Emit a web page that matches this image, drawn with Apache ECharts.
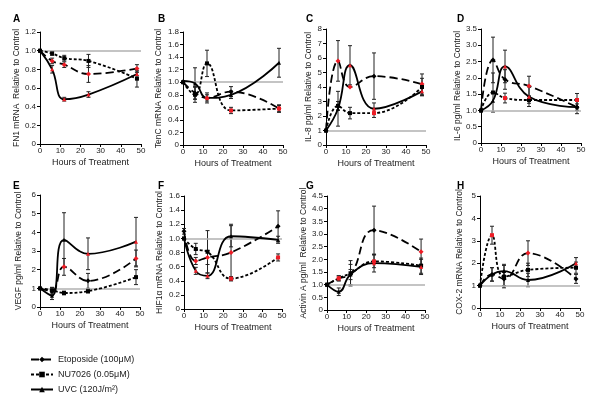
<!DOCTYPE html>
<html>
<head>
<meta charset="utf-8">
<script src="https://cdn.jsdelivr.net/npm/echarts@6/dist/echarts.min.js"></script>
<style>html,body{margin:0;padding:0;background:#fff}</style>
</head>
<body>
<div id="main" style="width:600px;height:400px;"></div>
<script type="text/javascript">
// hours sampled
var hours = [0, 6, 12, 24, 48];
var panelLetters = ['A', 'B', 'C', 'D', 'E', 'F', 'G', 'H'];
var yNames = [
    'FN1 mRNA  Relative to Control',
    'TenC mRNA Relative to Control',
    'IL-8 pg/ml Relative to Control',
    'IL-6 pg/ml Relative to Control',
    'VEGF pg/ml Relative to Control',
    'HIF1\u03b1 mRNA Relative to Control',
    'Activin A pg/ml  Relative to Control',
    'COX-2 mRNA Relative to Control'
];
var yMax = [1.2, 1.8, 8, 3.5, 6, 1.6, 4.5, 5];
var yStep = [0.2, 0.2, 1, 0.5, 1, 0.2, 0.5, 1];
var yDecimals = [1, 1, 0, 1, 0, 1, 1, 0];
var seriesNames = ['Etoposide (100\u03bcM)', 'NU7026 (0.05\u03bcM)', 'UVC (120J/m\u00b2)'];

// one row per panel, values at each hour
var etoposide = [
    [1.0, 0.89, 0.85, 0.75, 0.81],
    [1.0, 0.83, 0.75, 0.85, 0.58],
    [1.0, 5.8, 4.0, 4.75, 4.2],
    [1.0, 2.55, 1.95, 1.75, 1.1],
    [1.0, 0.85, 2.15, 1.4, 2.6],
    [1.1, 0.68, 0.73, 0.80, 1.17],
    [1.0, 1.25, 1.4, 3.15, 2.3],
    [1.0, 1.5, 1.3, 2.45, 1.3]
];
var nu7026 = [
    [1.0, 0.97, 0.92, 0.89, 0.70],
    [1.0, 0.80, 1.30, 0.55, 0.58],
    [1.0, 2.7, 2.2, 2.2, 4.0],
    [1.0, 1.55, 1.38, 1.32, 1.32],
    [1.0, 0.9, 0.75, 0.85, 1.6],
    [1.0, 0.85, 0.81, 0.43, 0.73],
    [1.0, 1.25, 1.45, 1.92, 1.75],
    [1.0, 3.25, 1.4, 1.7, 1.8]
];
var uvc = [
    [1.0, 0.80, 0.48, 0.53, 0.75],
    [1.02, 0.98, 0.75, 0.80, 1.31],
    [1.0, 2.5, 5.5, 2.5, 3.7],
    [1.0, 1.3, 2.35, 1.42, 1.1],
    [1.0, 0.6, 3.6, 2.85, 3.5],
    [1.0, 0.54, 0.47, 1.03, 0.98],
    [1.0, 0.72, 1.4, 1.85, 1.7],
    [1.0, 1.5, 1.65, 1.25, 2.0]
];
// error bar half widths
var etoposideErr = [
    [0, 0.03, 0.03, 0.09, 0.04],
    [0, 0.10, 0.08, 0.08, 0.05],
    [0, 1.4, 0, 1.6, 0.7],
    [0, 0.7, 0.3, 0.3, 0.1],
    [0, 0.2, 0.45, 0.4, 0.45],
    [0.04, 0.05, 0.1, 0.4, 0.22],
    [0, 0.1, 0.2, 0.95, 0.5],
    [0, 0.3, 0.3, 0.55, 0.2]
];
var nu7026Err = [
    [0, 0.02, 0.03, 0.07, 0.09],
    [0, 0.12, 0.21, 0.05, 0.06],
    [0, 0.3, 0.4, 0.3, 0.6],
    [0, 0.6, 0.15, 0.1, 0.2],
    [0, 0.15, 0.1, 0.1, 0.4],
    [0, 0.08, 0.3, 0.03, 0.05],
    [0, 0.1, 0.5, 0.25, 0.3],
    [0, 0.4, 0.5, 0.3, 0.25]
];
var uvcErr = [
    [0, 0.04, 0.02, 0.03, 0.02],
    [0, 0.25, 0.05, 0.06, 0.23],
    [0, 1.2, 1.35, 0.4, 0.3],
    [0, 0, 0.5, 0.3, 0.2],
    [0, 0.2, 1.45, 0.85, 1.3],
    [0, 0.05, 0.04, 0.15, 0.05],
    [0, 0.15, 0.4, 0.35, 0.3],
    [0, 0.3, 0.3, 0.3, 0.25]
];
// 1 = significant (red marker)
var etoposideSig = [
    [0, 1, 1, 1, 1], [0, 0, 1, 0, 1], [0, 1, 1, 0, 1], [0, 0, 0, 1, 0],
    [0, 0, 1, 0, 1], [0, 1, 1, 1, 0], [0, 1, 0, 0, 1], [0, 0, 0, 1, 0]
];
var nu7026Sig = [
    [0, 0, 0, 0, 0], [0, 0, 0, 1, 1], [0, 0, 0, 1, 0], [0, 0, 1, 0, 1],
    [0, 0, 0, 0, 0], [0, 0, 0, 1, 1], [0, 1, 0, 1, 0], [0, 1, 0, 0, 0]
];
var uvcSig = [
    [0, 1, 1, 1, 1], [0, 0, 1, 0, 0], [0, 0, 1, 1, 1], [0, 0, 1, 1, 0],
    [0, 0, 0, 1, 1], [0, 1, 1, 0, 0], [0, 0, 0, 1, 1], [0, 0, 0, 0, 1]
];

// layout: [left, top, width, height], name gap, letter pos
var grids = [
    [40, 32, 101, 112], [183, 32, 100, 113], [326, 29, 100, 116], [481, 29, 100, 114],
    [40, 195, 100, 112], [184, 196, 98, 113], [327, 196, 98, 114], [480, 196, 100, 112]
];
var nameGaps = [17, 20, 13, 18, 17, 20, 14, 16];
var letterPos = [[8, 9], [153, 9], [301, 9], [452, 9], [8, 176], [153, 176], [301, 176], [452, 176]];

var FONT = 'Liberation Sans';
var myChart = echarts.init(document.getElementById('main'));

var option = {
    backgroundColor: '#fff',
    animation: false,
    textStyle: {fontFamily: FONT},
    title: [],
    grid: [],
    xAxis: [],
    yAxis: [],
    series: [],
    legend: {
        orient: 'vertical',
        left: 25,
        top: 350,
        itemWidth: 22,
        itemHeight: 7,
        itemGap: 6,
        textStyle: {fontFamily: FONT, fontSize: 9, color: '#222'},
        data: seriesNames
    }
};

var groups = [
    {vals: etoposide, err: etoposideErr, sig: etoposideSig, symbol: 'diamond', size: 5, dash: [8, 4]},
    {vals: nu7026, err: nu7026Err, sig: nu7026Sig, symbol: 'rect', size: 4, dash: [3, 2]},
    {vals: uvc, err: uvcErr, sig: uvcSig, symbol: 'triangle', size: 4, dash: 'solid'}
];

function errorBar(params, api) {
    var x = api.value(0), lo = api.value(1), hi = api.value(2);
    var p1 = api.coord([x, lo]), p2 = api.coord([x, hi]);
    var c = 2;
    var st = {stroke: '#222', lineWidth: 1};
    return {
        type: 'group',
        children: [
            {type: 'line', shape: {x1: p1[0], y1: p1[1], x2: p2[0], y2: p2[1]}, style: st},
            {type: 'line', shape: {x1: p1[0] - c, y1: p1[1], x2: p1[0] + c, y2: p1[1]}, style: st},
            {type: 'line', shape: {x1: p2[0] - c, y1: p2[1], x2: p2[0] + c, y2: p2[1]}, style: st}
        ]
    };
}

for (var i = 0; i < 8; i++) {
    var g = grids[i];
    option.grid.push({left: g[0], top: g[1], width: g[2], height: g[3]});
    option.title.push({
        text: panelLetters[i], left: letterPos[i][0], top: letterPos[i][1],
        textStyle: {fontFamily: FONT, fontSize: 10, fontWeight: 'bold', color: '#000'}
    });
    option.xAxis.push({
        gridIndex: i, type: 'value', min: 0, max: 50, interval: 10,
        name: 'Hours of Treatment', nameLocation: 'middle', nameGap: 14,
        nameTextStyle: {fontFamily: FONT, fontSize: 9, color: '#222'},
        axisLine: {lineStyle: {color: '#000', width: 1}},
        axisTick: {length: 3, lineStyle: {color: '#000'}},
        axisLabel: {fontFamily: FONT, fontSize: 8, color: '#222', margin: 3},
        splitLine: {show: false}
    });
    (function (dec) {
        option.yAxis.push({
            gridIndex: i, type: 'value', min: 0, max: yMax[i], interval: yStep[i],
            name: yNames[i], nameLocation: 'middle', nameGap: nameGaps[i], nameRotate: 90,
            nameTextStyle: {fontFamily: FONT, fontSize: 8.5, color: '#222'},
            axisLine: {show: true, lineStyle: {color: '#000', width: 1}},
            axisTick: {show: true, length: 3, lineStyle: {color: '#000'}},
            axisLabel: {
                fontFamily: FONT, fontSize: 8, color: '#222', margin: 4,
                formatter: function (v) { return v === 0 ? '0' : v.toFixed(dec); }
            },
            splitLine: {show: false}
        });
    })(yDecimals[i]);

    groups.forEach(function (grp, k) {
        var vals = grp.vals[i], sig = grp.sig[i], err = grp.err[i];
        var s = {
            name: seriesNames[k],
            type: 'line',
            xAxisIndex: i, yAxisIndex: i,
            smooth: 0.45,
            symbol: grp.symbol,
            symbolSize: grp.size,
            z: 5,
            lineStyle: {color: '#000', width: 1.8, type: grp.dash},
            itemStyle: {color: '#000'},
            data: hours.map(function (h, j) {
                var d = {value: [h, vals[j]]};
                if (sig[j]) d.itemStyle = {color: '#ee1c25'};
                return d;
            })
        };
        if (k === 0) {
            s.markLine = {
                silent: true, symbol: 'none', label: {show: false},
                lineStyle: {color: '#b0b0b0', width: 1.5, type: 'solid'},
                data: [{yAxis: 1}]
            };
        }
        option.series.push(s);
        var eb = [];
        hours.forEach(function (h, j) {
            if (err[j] > 0) eb.push([h, vals[j] - err[j], vals[j] + err[j]]);
        });
        option.series.push({
            type: 'custom', xAxisIndex: i, yAxisIndex: i, z: 4,
            renderItem: errorBar, data: eb, silent: true
        });
    });
}

myChart.setOption(option);
</script>
</body>
</html>
